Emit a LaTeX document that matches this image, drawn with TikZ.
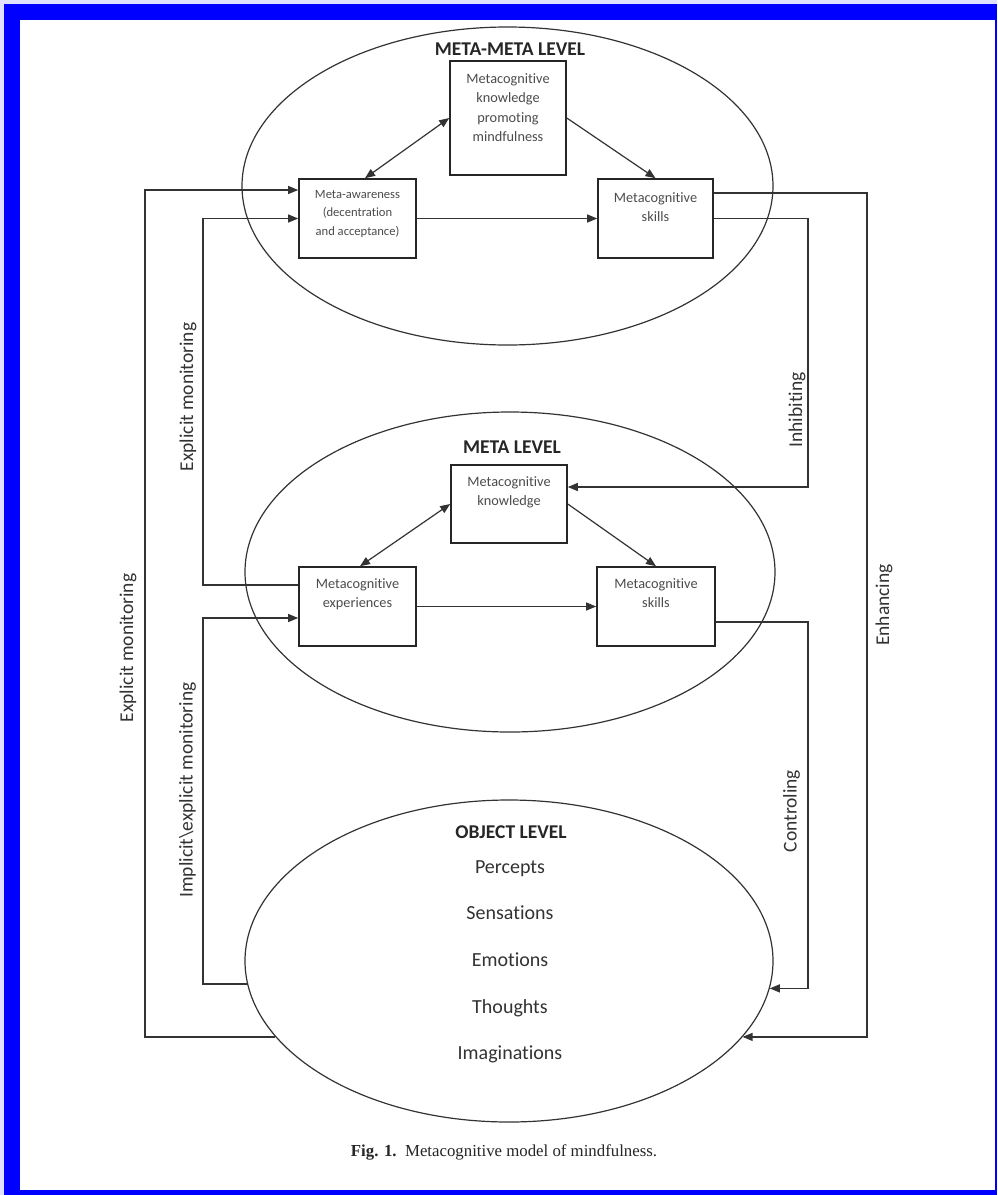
\documentclass[tikz,border=0pt]{standalone}
\usepackage{fontspec}
\setmainfont{Carlito}[Ligatures=NoCommon]
\newfontfamily\capfont{Liberation Serif}
\usetikzlibrary{arrows.meta,shapes.geometric,calc}
\begin{document}
\begin{tikzpicture}[x=1pt,y=-1pt,
  lvl/.style={draw=black!80, line width=1.2pt, ellipse, inner sep=0pt},
  bx/.style={draw=black!85, line width=1.6pt, inner sep=0pt},
  bxt/.style={anchor=north, align=center, inner sep=0pt, font=\fontsize{14.3}{19.5}\selectfont, text=black!70},
  bxs/.style={bxt, font=\fontsize{12.6}{18.5}\selectfont},
  hd/.style={font=\fontsize{19.5}{22}\selectfont\bfseries, text=black!85, inner sep=0pt},
  itm/.style={font=\fontsize{20}{24}\selectfont, text=black!80, inner sep=0pt, text height=12pt, text depth=0pt},
  ln/.style={draw=black!80, line width=1.2pt},
  tip/.tip={Triangle[length=10pt,width=8pt]},
  ar/.style={ln, -tip},
  dar/.style={ln, tip-tip},
  sl/.style={rotate=90, font=\fontsize{19.5}{22}\selectfont, text=black!80, inner sep=0pt}
]
\useasboundingbox (0,0) rectangle (997,1195);
\fill[blue!12] (0,0) rectangle (997,1195);
\fill[blue] (4,4) rectangle (997,1195);
\fill[white] (20,20) rectangle (995,1190);

% level ellipses
\node[lvl, minimum width=531pt, minimum height=318pt] (emm) at (507.5,186) {};
\node[lvl, minimum width=530pt, minimum height=320pt] (eml) at (510,572) {};
\node[lvl, minimum width=528pt, minimum height=322pt] (eob) at (509,961) {};

% headers
\node[hd] (hmm) at (510,49) {META-META LEVEL};
\node[hd] (hml) at (512,447) {META LEVEL};
\node[hd] (hob) at (511,832) {OBJECT LEVEL};

% object level items
\node[itm] (i1) at (510,867) {Percepts};
\node[itm] (i2) at (510,913) {Sensations};
\node[itm] (i3) at (510,960) {Emotions};
\node[itm] (i4) at (510,1007) {Thoughts};
\node[itm] (i5) at (510,1053) {Imaginations};

% boxes, meta-meta level
\node[bx, minimum width=117pt, minimum height=79pt] (aw) at (357.5,218.5) {};
\node[bx, minimum width=116pt, minimum height=114pt] (kn1) at (508,118) {};
\node[bx, minimum width=115pt, minimum height=79pt] (sk1) at (655.5,218.5) {};
\node[bxs] (awt) at ([yshift=-12pt]aw.north) {Meta-awareness\\(decentration\\and acceptance)};
\node[bxt] (kn1t) at ([yshift=-13pt]kn1.north) {Metacognitive\\knowledge\\promoting\\mindfulness};
\node[bxt] (sk1t) at ([yshift=-14pt]sk1.north) {Metacognitive\\skills};

% boxes, meta level
\node[bx, minimum width=116pt, minimum height=78pt] (kn2) at (509,504) {};
\node[bx, minimum width=117pt, minimum height=79pt] (exp) at (357.5,606.5) {};
\node[bx, minimum width=118pt, minimum height=79pt] (sk2) at (656,606.5) {};
\node[bxt] (kn2t) at ([yshift=-12pt]kn2.north) {Metacognitive\\knowledge};
\node[bxt] (expt) at ([yshift=-12pt]exp.north) {Metacognitive\\experiences};
\node[bxt] (sk2t) at ([yshift=-12pt]sk2.north) {Metacognitive\\skills};

% arrows inside levels
\draw[dar] ([xshift=7.5pt]aw.north) -- (kn1.west);
\draw[ar] (kn1.east) -- (sk1.north);
\draw[ar] (aw.east) -- (sk1.west);
\draw[dar] ([xshift=2.5pt]exp.north) -- (kn2.west);
\draw[ar] (kn2.east) -- (sk2.north);
\draw[ar] (exp.east) -- (sk2.west);

% routing columns
\coordinate (cL1) at (145,0);
\coordinate (cL2) at (203,0);
\coordinate (cR1) at (808,0);
\coordinate (cR2) at (867,0);
\coordinate (awA) at ([yshift=28.5pt]aw.west);
\coordinate (expA) at ([yshift=21.5pt]exp.west);
\coordinate (expB) at ([yshift=-11.5pt]exp.west);
\coordinate (sk1A) at ([yshift=25.5pt]sk1.east);
\coordinate (kn2A) at ([yshift=17pt]kn2.east);
\coordinate (sk2A) at ([yshift=-15.5pt]sk2.east);

% side connectors
\draw[ar] (eob.198) -- (eob.198 -| cL1) -- (cL1 |- awA) -- (awA);
\draw[ar] (expA) -- (expA -| cL2) -- (cL2 |- aw.west) -- (aw.west);
\draw[ar] (eob.185) -- (eob.185 -| cL2) -- (cL2 |- expB) -- (expB);
\draw[ar] (sk1A) -- (sk1A -| cR2) -- (cR2 |- eob.-18) -- (eob.-18);
\draw[ar] (sk1.east) -- (sk1.east -| cR1) -- (cR1 |- kn2A) -- (kn2A);
\draw[ar] (sk2A) -- (sk2A -| cR1) -- (cR1 |- eob.-6) -- (eob.-6);

% side labels
\node[sl] (l1) at (128,648) {Explicit monitoring};
\node[sl] (l2) at (188,397) {Explicit monitoring};
\node[sl] (l3) at (187.5,790) {Implicit\textbackslash explicit monitoring};
\node[sl] (l4) at (797,410) {Inhibiting};
\node[sl] (l5) at (884,605) {Enhancing};
\node[sl] (l6) at (791.5,811) {Controling};

% caption
\node[font=\capfont\fontsize{16.8}{18}\selectfont, text=black!85, inner sep=0pt] (cap) at (504,1152) {\textbf{Fig. 1.}\ \ Metacognitive model of mindfulness.};
\end{tikzpicture}
\end{document}
